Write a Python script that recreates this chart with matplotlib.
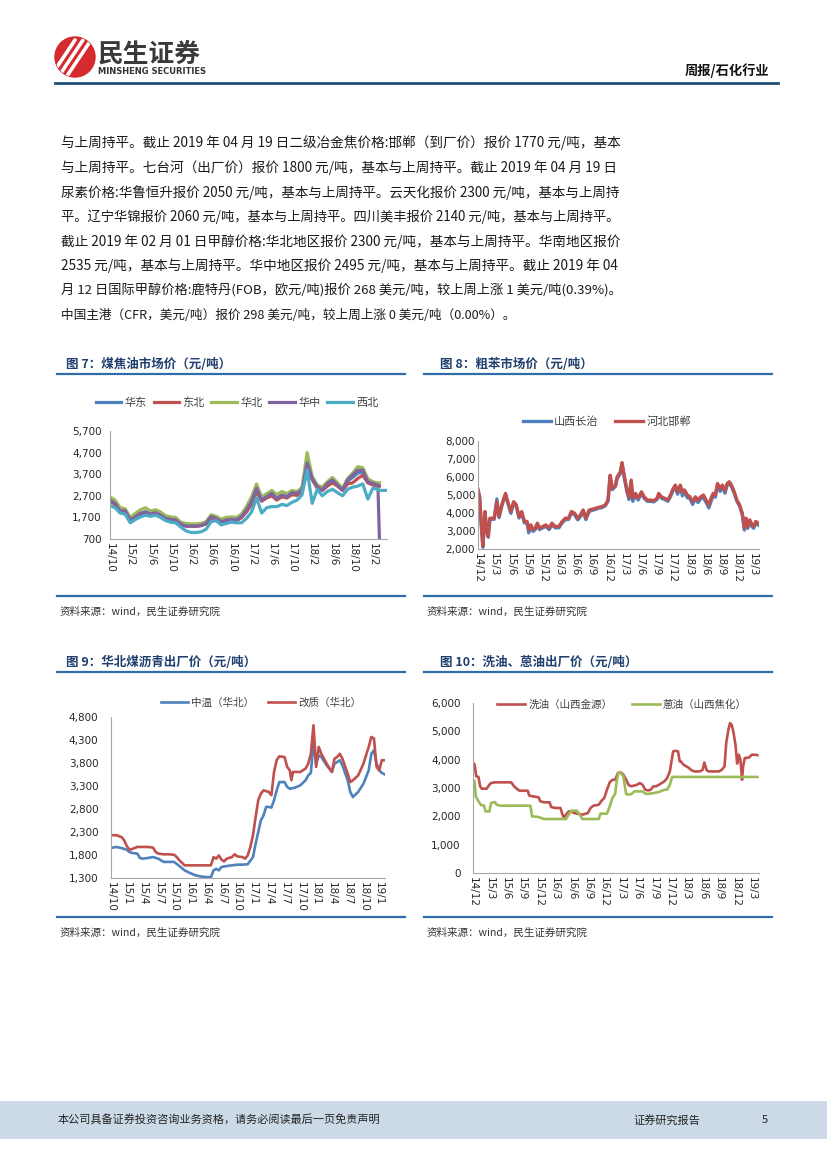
import numpy as np
import matplotlib.pyplot as plt
from matplotlib.patches import Rectangle, Circle

plt.rcParams['font.family'] = ['Noto Sans CJK SC', 'DejaVu Sans']

nan = np.nan

# ---------------- data ----------------
# fig 7: coal tar market price, x = months since 2014-10
x7 = list(range(54)) + [53.3, 54.7]
huadong7 = [2480, 2330, 1990, 1990, 1560, 1710, 1860, 1940, 1840, 1900,
            1790, 1640, 1600, 1570, 1390, 1300, 1300, 1300, 1320, 1410,
            1700, 1640, 1490, 1570, 1600, 1570, 1710, 2000, 2380, 2980,
            2480, 2630, 2780, 2550, 2700, 2630, 2800, 2780, 2940, 4150,
            3480, 3100, 2960, 3220, 3380, 3180, 2960, 3380, 3550, 3750,
            3800, 3320, 3240, 3180, 3180, nan]
dongbei7 = [2450, 2300, 1980, 1950, 1530, 1680, 1820, 1900, 1820, 1880,
            1780, 1620, 1580, 1550, 1380, 1300, 1300, 1300, 1320, 1400,
            1680, 1620, 1480, 1550, 1580, 1550, 1680, 1950, 2300, 2900,
            2450, 2600, 2700, 2500, 2650, 2600, 2750, 2720, 2900, 4100,
            3450, 3050, 2950, 3150, 3300, 3150, 2950, 3250, 3300, 3500,
            3650, 3300, 3200, 3150, 3150, nan]
huabei7 = [2650, 2500, 2150, 2100, 1700, 1880, 2050, 2150, 2000, 2050,
           1950, 1780, 1720, 1700, 1480, 1420, 1400, 1400, 1420, 1500,
           1820, 1750, 1620, 1700, 1720, 1700, 1850, 2200, 2650, 3250,
           2650, 2800, 2950, 2750, 2900, 2800, 2950, 2900, 3100, 4700,
           3600, 3200, 3100, 3350, 3550, 3300, 3050, 3500, 3750, 4050,
           4000, 3500, 3350, 3300, 3300, nan]
huazhong7 = [2505, 2350, 2000, 2010, 1580, 1735, 1890, 1965, 1857, 1920,
             1810, 1657, 1610, 1580, 1395, 1300, 1300, 1300, 1330, 1425,
             1735, 1657, 1500, 1580, 1610, 1580, 1735, 2040, 2430, 3045,
             2500, 2660, 2815, 2580, 2735, 2660, 2845, 2815, 2970, 4230,
             3510, 3120, 2970, 3275, 3430, 3200, 2970, 3430, 3660, 3890,
             3890, 3350, 3275, 3200, 700, nan]
xibei7 = [2250, 2150, 1900, 1850, 1450, 1600, 1720, 1800, 1750, 1800,
          1700, 1550, 1480, 1450, 1250, 1080, 1000, 1000, 1030, 1150,
          1500, 1550, 1350, 1420, 1480, 1450, 1450, 1650, 1950, 2600,
          1900, 2150, 2200, 2200, 2300, 2250, 2400, 2500, 2750, 3900,
          2350, 3000, 2700, 2900, 3000, 2850, 2700, 3000, 3100, 3150,
          3250, 2550, 3050, 3000, 2950, 2950]
names7 = ['华东', '东北', '华北', '华中', '西北']
xlabels7 = ['14/10', '15/2', '15/6', '15/10', '16/2', '16/6', '16/10', '17/2',
            '17/6', '17/10', '18/2', '18/6', '18/10', '19/2']
yticks7 = [700, 1700, 2700, 3700, 4700, 5700]

# fig 8: crude benzene, x = months since 2014-12
x8 = [0, 0.3, 0.6, 0.9, 1.3, 1.6, 1.9, 2.2, 3, 3.5,
      3.9, 4.5, 5.1, 5.6, 6.1, 6.6, 7.1, 7.6, 8.1, 8.6,
      9.1, 9.4, 9.8, 10.2, 10.6, 11, 11.4, 12, 12.6, 13.2,
      13.7, 14.3, 15, 15.6, 16.2, 16.8, 17.3, 17.9, 18.5, 19,
      19.5, 20, 20.6, 21.2, 21.8, 22.4, 23, 23.6, 24.1, 24.5,
      24.9, 25.5, 25.8, 26.4, 26.7, 27.1, 27.6, 28, 28.4, 28.7,
      29.2, 29.7, 30.3, 30.8, 31.4, 32, 32.6, 33.2, 33.5, 34,
      34.6, 35.2, 35.7, 36.2, 36.6, 37, 37.5, 37.9, 38.3, 38.8,
      39.3, 39.8, 40.3, 40.8, 41.3, 41.8, 42.3, 42.8, 43.2, 43.6,
      44, 44.4, 44.9, 45.3, 45.8, 46.2, 46.6, 47, 47.5, 48,
      48.5, 49, 49.4, 49.7, 50, 50.4, 50.8, 51.1, 51.5, 52]
changzhi8 = [5250, 4850, 3380, 2100, 4000, 3000, 2650, 3650, 3650, 4780,
             3750, 4480, 5000, 4480, 3980, 4550, 4380, 3720, 4000, 3450,
             3450, 2900, 3250, 2980, 3080, 3350, 3080, 3180, 3250, 3080,
             3350, 3180, 3180, 3450, 3640, 3640, 3990, 3900, 3620, 3800,
             4080, 3630, 4080, 4150, 4200, 4270, 4300, 4400, 4650, 6000,
             5300, 5480, 5920, 6200, 6750, 6000, 5200, 4750, 5750, 4650,
             4980, 4720, 5100, 4820, 4650, 4650, 4620, 4750, 5000, 4820,
             4750, 4650, 4920, 5280, 5450, 5050, 5450, 4950, 5180, 4850,
             4800, 4480, 4800, 4580, 4800, 4850, 4580, 4280, 4650, 4950,
             4880, 5500, 5200, 5450, 5100, 5550, 5650, 5450, 5100, 4650,
             4380, 3900, 3050, 3600, 3150, 3520, 3250, 3150, 3420, 3330]
handan8 = [5310, 4900, 3435, 2150, 4080, 3070, 2700, 3710, 3710, 4630,
           3800, 4540, 5090, 4540, 4080, 4630, 4450, 3800, 4080, 3530,
           3530, 3070, 3340, 3070, 3160, 3435, 3160, 3250, 3340, 3160,
           3435, 3250, 3250, 3530, 3710, 3710, 4080, 3990, 3710, 3895,
           4170, 3710, 4170, 4210, 4260, 4320, 4355, 4450, 4720, 6100,
           5370, 5550, 6010, 6290, 6800, 6100, 5280, 4900, 5830, 4820,
           5090, 4820, 5180, 4900, 4720, 4720, 4690, 4820, 5090, 4900,
           4820, 4720, 5000, 5370, 5550, 5180, 5550, 5180, 5280, 5000,
           4900, 4630, 4900, 4720, 4900, 5000, 4720, 4450, 4820, 5090,
           5000, 5640, 5370, 5550, 5240, 5640, 5735, 5550, 5180, 4720,
           4450, 3990, 3160, 3710, 3250, 3620, 3340, 3250, 3530, 3435]
names8 = ['山西长治', '河北邯郸']
xlabels8 = ['14/12', '15/3', '15/6', '15/9', '15/12', '16/3', '16/6', '16/9', '16/12',
            '17/3', '17/6', '17/9', '17/12', '18/3', '18/6', '18/9', '18/12', '19/3']
yticks8 = [2000, 3000, 4000, 5000, 6000, 7000, 8000]

# fig 9: coal tar pitch, x = months since 2014-10
x9_mid = [0, 1, 2, 3, 3.5, 4, 5, 5.5, 6, 7, 8, 9, 10, 11, 12, 13, 14, 15, 16, 17,
          18, 19, 19.5, 20, 20.5, 21, 22, 23, 24, 25, 26, 27, 27.5, 28, 28.5, 29,
          29.5, 30, 30.5, 31, 31.5, 32, 33, 33.5, 34, 35, 36, 37, 37.5, 38, 38.5,
          39, 39.5, 40, 41, 42, 42.5, 43, 43.5, 44, 45, 45.5, 46, 47, 48, 49,
          49.5, 50, 50.5, 51, 51.5, 52]
mid9 = [1952, 1975, 1950, 1915, 1865, 1845, 1830, 1735, 1720, 1735,
        1755, 1720, 1650, 1650, 1650, 1560, 1465, 1410, 1360, 1335,
        1320, 1320, 1465, 1500, 1465, 1540, 1560, 1575, 1590, 1590,
        1600, 1755, 2045, 2300, 2555, 2660, 2845, 2845, 2830, 2990,
        3205, 3385, 3385, 3280, 3240, 3265, 3315, 3425, 3530, 3585,
        4250, 3785, 3965, 3930, 3750, 3605, 3785, 3820, 3860, 3750,
        3425, 3170, 3060, 3170, 3350, 3640, 4000, 4075, 3785, 3640,
        3585, 3555]
x9_mod = [0, 1, 2, 2.5, 3, 3.5, 4, 5, 6, 7, 8, 8.5, 9, 10, 11, 12, 12.5, 13, 14, 15,
          16, 17, 18, 19, 19.5, 20, 20.5, 21, 21.5, 22, 23, 23.5, 24, 25, 25.5, 26,
          26.5, 27, 27.5, 28, 28.5, 29, 30, 30.5, 31, 31.5, 32, 33, 33.5, 34, 34.3,
          34.6, 35, 36, 37, 37.5, 38, 38.5, 39, 39.5, 40, 41, 42, 42.5, 43, 43.5,
          44, 45, 45.5, 46, 47, 48, 49, 49.5, 50, 50.5, 51, 51.5, 52]
mod9 = [2230, 2230, 2190, 2120, 1995, 1915, 1930, 1975, 1975, 1975,
        1960, 1865, 1830, 1815, 1815, 1805, 1755, 1685, 1575, 1575,
        1575, 1575, 1575, 1575, 1755, 1720, 1790, 1700, 1660, 1720,
        1755, 1815, 1770, 1755, 1720, 1790, 1975, 2230, 2625, 2990,
        3135, 3205, 3170, 3100, 3605, 3860, 3945, 3930, 3715, 3640,
        3425, 3605, 3605, 3605, 3680, 3785, 4000, 4620, 3715, 4150,
        4000, 3785, 3605, 3895, 3930, 4000, 3895, 3570, 3385, 3425,
        3530, 3785, 4150, 4365, 4335, 3715, 3640, 3860, 3860]
names9 = ['中温（华北）', '改质（华北）']
xlabels9 = ['14/10', '15/1', '15/4', '15/7', '15/10', '16/1', '16/4', '16/7', '16/10',
            '17/1', '17/4', '17/7', '17/10', '18/1', '18/4', '18/7', '18/10', '19/1']
yticks9 = [1300, 1800, 2300, 2800, 3300, 3800, 4300, 4800]

# fig 10: wash oil / anthracene oil, x = months since 2014-12
x10_wash = [0, 0.3, 0.6, 1, 1.3, 1.6, 2, 2.5, 3, 3.3,
            4, 5, 6, 7, 7.5, 8, 8.5, 9, 10, 10.3,
            11, 12, 12.3, 13, 14, 14.3, 15, 16, 16.3, 16.6,
            17, 17.5, 18, 18.5, 19, 20, 21, 21.5, 22, 23,
            23.5, 24, 24.5, 25, 25.5, 26, 26.5, 27, 27.5, 28,
            28.5, 29, 30, 30.5, 31, 31.5, 32, 32.5, 33, 33.5,
            34, 35, 35.5, 36, 36.3, 36.6, 37, 37.5, 37.8, 38,
            38.5, 39, 39.5, 40, 40.5, 41, 41.5, 42, 42.3, 42.7,
            43, 44, 45, 45.5, 46, 46.3, 46.7, 47, 47.3, 47.6,
            48, 48.3, 48.6, 48.9, 49.2, 49.4, 49.7, 50, 50.5, 51,
            51.5, 52]
wash10 = [3900, 3820, 3410, 3390, 3060, 2975, 2975, 2975, 3115, 3175,
          3200, 3200, 3200, 3200, 3060, 2975, 2905, 2905, 2905, 2730,
          2705, 2670, 2530, 2495, 2495, 2330, 2295, 2295, 2095, 1965,
          2060, 2175, 2175, 2115, 2095, 2060, 2115, 2295, 2375, 2410,
          2550, 2645, 2940, 3200, 3290, 3290, 3530, 3550, 3470, 3290,
          3095, 3060, 3115, 3175, 3115, 2940, 2915, 2940, 3060, 3060,
          3115, 3235, 3350, 3585, 3940, 4290, 4315, 4290, 3940, 3940,
          3820, 3765, 3705, 3620, 3585, 3585, 3585, 3645, 3900, 3645,
          3585, 3585, 3585, 3645, 3765, 4585, 5055, 5290, 5230, 5000,
          4525, 3860, 4175, 4000, 3290, 3765, 4060, 4060, 4080, 4175,
          4175, 4160]
x10_anth = [0, 0.3, 0.5, 1, 1.5, 2, 2.3, 3, 3.3, 4,
            4.3, 5, 10.5, 10.8, 12, 13, 17, 17.5, 18, 19,
            19.5, 20, 23, 23.3, 24, 24.5, 25, 25.5, 26, 26.3,
            26.6, 27, 27.5, 28, 28.3, 29, 29.5, 30, 31, 31.5,
            32, 33, 34, 35, 35.5, 36, 36.4, 52]
anth10 = [3290, 3235, 2705, 2530, 2390, 2390, 2175, 2175, 2470, 2505,
          2410, 2375, 2375, 2000, 1975, 1905, 1905, 2060, 2200, 2200,
          2060, 1905, 1905, 2095, 2095, 2095, 2350, 2645, 2800, 3290,
          3530, 3530, 3410, 2790, 2765, 2790, 2880, 2880, 2880, 2800,
          2790, 2820, 2860, 2940, 2940, 3115, 3390, 3390]
names10 = ['洗油（山西金源）', '蒽油（山西焦化）']
yticks10 = [0, 1000, 2000, 3000, 4000, 5000, 6000]

para = [
    '与上周持平。截止 2019 年 04 月 19 日二级冶金焦价格:邯郸（到厂价）报价 1770 元/吨，基本',
    '与上周持平。七台河（出厂价）报价 1800 元/吨，基本与上周持平。截止 2019 年 04 月 19 日',
    '尿素价格:华鲁恒升报价 2050 元/吨，基本与上周持平。云天化报价 2300 元/吨，基本与上周持',
    '平。辽宁华锦报价 2060 元/吨，基本与上周持平。四川美丰报价 2140 元/吨，基本与上周持平。',
    '截止 2019 年 02 月 01 日甲醇价格:华北地区报价 2300 元/吨，基本与上周持平。华南地区报价',
    '2535 元/吨，基本与上周持平。华中地区报价 2495 元/吨，基本与上周持平。截止 2019 年 04',
    '月 12 日国际甲醇价格:鹿特丹(FOB，欧元/吨)报价 268 美元/吨，较上周上涨 1 美元/吨(0.39%)。',
    '中国主港（CFR，美元/吨）报价 298 美元/吨，较上周上涨 0 美元/吨（0.00%）。',
]

# ---------------- page ----------------
W, H = 827, 1169
fig = plt.figure(figsize=(W / 100, H / 100), dpi=100)
bg = fig.add_axes([0, 0, 1, 1])
bg.set_xlim(0, W)
bg.set_ylim(H, 0)
bg.axis('off')
renderer = fig.canvas.get_renderer()

# header
logo = Circle((75, 57), 20, color='#D52B2F')
bg.add_patch(logo)
for dx in (-9, -1, 7):
    ln, = bg.plot([60 + dx, 84 + dx], [76, 40], color='white', lw=2.6, solid_capstyle='round')
    ln.set_clip_path(logo)
bg.text(98, 54, '民生证券', fontsize=18.5, fontweight='bold', color='#3A3A3A', va='center')
bg.text(98, 72, 'MINSHENG SECURITIES', fontsize=6, fontweight='bold', color='#333333',
        va='center', family='DejaVu Sans')
bg.text(769, 71, '周报/石化行业', fontsize=9.5, fontweight='bold', color='#111111',
        va='center', ha='right')
bg.plot([55, 778], [83, 83], color='#1F4E79', lw=2)

# paragraph, justified to the text block width
for i, line in enumerate(para):
    y = 143 + 24.6 * i
    t = bg.text(61, y, line, fontsize=9.1, color='#1A1A1A', va='center', ha='left')
    if i < len(para) - 1:
        w = t.get_window_extent(renderer).width
        t.set_fontsize(min(9.8, max(8.4, 9.1 * 559 / w)))

# footer
bg.add_patch(Rectangle((0, 1101), W, 38, color='#CCDAE8', lw=0))
bg.text(58, 1120, '本公司具备证券投资咨询业务资格，请务必阅读最后一页免责声明', fontsize=8,
        color='#222222', va='center')
bg.text(633, 1120, '证券研究报告', fontsize=8, color='#222222', va='center')
bg.text(762, 1120, '5', fontsize=8, color='#222222', va='center')


def section(x0, x1, y_title, y_top, y_bot, y_src, title, x_title, x_src):
    bg.text(x_title, y_title, title, fontsize=9, fontweight='bold', color='#1F3F6E', va='center')
    bg.plot([x0, x1], [y_top, y_top], color='#2E6DA8', lw=1.6)
    bg.plot([x0, x1], [y_bot, y_bot], color='#2E6DA8', lw=1.6)
    bg.text(x_src, y_src, '资料来源：wind，民生证券研究院', fontsize=7.6, color='#333333', va='center')


section(57, 405, 365, 374, 596, 612, '图 7：煤焦油市场价（元/吨）', 66, 60)
section(424, 772, 365, 374, 596, 612, '图 8：粗苯市场价（元/吨）', 440, 427)
section(57, 405, 662, 672, 917, 933, '图 9：华北煤沥青出厂价（元/吨）', 66, 60)
section(424, 772, 662, 672, 917, 933, '图 10：洗油、蒽油出厂价（元/吨）', 440, 427)


def px_axes(left, top, right, bottom):
    return fig.add_axes([left / W, 1 - bottom / H, (right - left) / W, (bottom - top) / H])


def style(ax, xmax, yticks, step, xlabels, ypad):
    ax.set_facecolor('none')
    ax.set_xlim(0, xmax)
    ax.set_ylim(yticks[0], yticks[-1])
    ax.set_yticks(yticks)
    ax.set_yticklabels([f'{v:,}' for v in yticks])
    ax.set_xticks([i * step for i in range(len(xlabels))])
    ax.set_xticklabels(xlabels, rotation=-90, va='top', ha='center')
    for s in ('top', 'right'):
        ax.spines[s].set_visible(False)
    for s in ('left', 'bottom'):
        ax.spines[s].set_color('#A6A6A6')
        ax.spines[s].set_linewidth(0.8)
    ax.tick_params(length=0, labelsize=7.5, colors='#262626')
    ax.tick_params(axis='y', pad=ypad)
    ax.tick_params(axis='x', pad=3)
    for lbl in ax.get_xticklabels() + ax.get_yticklabels():
        lbl.set_fontfamily('DejaVu Sans')


def legend(ax, cx, cy, ncol, fs, hl, cs):
    leg = ax.legend(loc='center', bbox_to_anchor=(cx / W, 1 - cy / H), bbox_transform=fig.transFigure,
                    ncol=ncol, frameon=False, prop={'size': fs}, handlelength=hl,
                    handletextpad=0.3, columnspacing=cs, borderpad=0, borderaxespad=0)
    for t in leg.get_texts():
        t.set_color('#404040')


# chart 7
ax7 = px_axes(110, 431, 387, 539)
colors7 = ['#4F81BD', '#C0504D', '#9BBB59', '#8064A2', '#4BACC6']
for name, vals, c in zip(names7, [huadong7, dongbei7, huabei7, huazhong7, xibei7], colors7):
    ax7.plot(x7, vals, color=c, lw=2.3, label=name, solid_joinstyle='round')
style(ax7, 54.8, yticks7, 4, xlabels7, 6)
legend(ax7, 237, 403, 5, 8, 2.3, 0.6)

# chart 8
ax8 = px_axes(478, 441, 759, 549)
ax8.plot(x8, changzhi8, color='#4F81BD', lw=2.4, label=names8[0], solid_joinstyle='round')
ax8.plot(x8, handan8, color='#C0504D', lw=2.4, label=names8[1], solid_joinstyle='round')
style(ax8, 52.1, yticks8, 3, xlabels8, 2)
legend(ax8, 607, 422, 2, 8, 2.5, 1.5)

# chart 9
ax9 = px_axes(111, 717, 385, 878)
ax9.plot(x9_mid, mid9, color='#4F81BD', lw=1.9, label=names9[0], solid_joinstyle='round')
ax9.plot(x9_mod, mod9, color='#C0504D', lw=1.9, label=names9[1], solid_joinstyle='round')
style(ax9, 52.1, yticks9, 3, xlabels9, 9)
legend(ax9, 261, 703, 2, 7.6, 2.6, 1.3)

# chart 10
ax10 = px_axes(473, 703, 759, 873)
ax10.plot(x10_wash, wash10, color='#C0504D', lw=1.9, label=names10[0], solid_joinstyle='round')
ax10.plot(x10_anth, anth10, color='#9BBB59', lw=1.9, label=names10[1], solid_joinstyle='round')
style(ax10, 52.3, yticks10, 3, xlabels8, 9)
legend(ax10, 622, 705, 2, 7.6, 2.7, 1.8)

fig.savefig('out.png', dpi=100)
